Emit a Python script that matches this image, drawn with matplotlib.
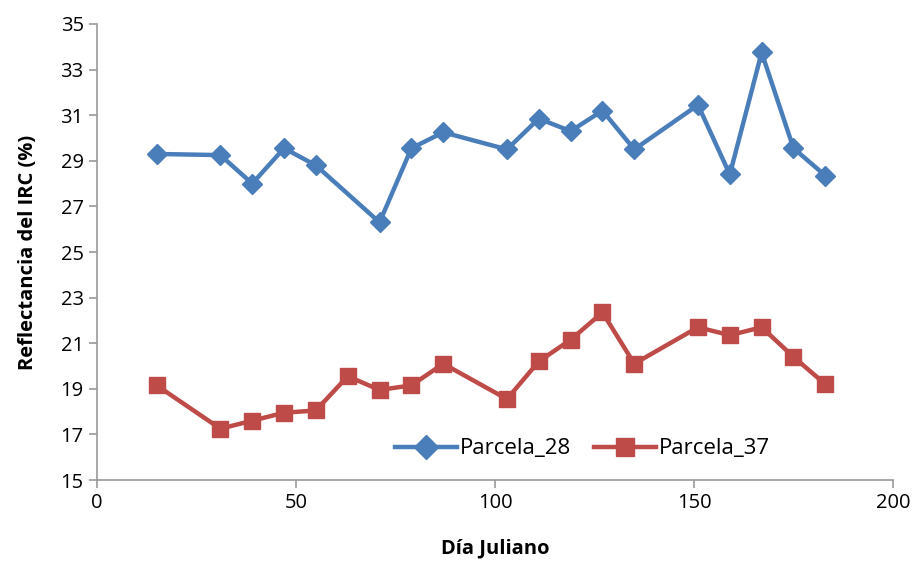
import matplotlib.pyplot as plt

plt.rcParams['font.family'] = ['Open Sans', 'DejaVu Sans']

# Day of year for each plot
dias_28 = [15, 31, 39, 47, 55, 71, 79, 87, 103, 111, 119, 127, 135, 151, 159, 167, 175, 183]
dias_37 = [15, 31, 39, 47, 55, 63, 71, 79, 87, 103, 111, 119, 127, 135, 151, 159, 167, 175, 183]

# NIR reflectance (%)
parcela_28 = [29.3, 29.25, 28.0, 29.55, 28.8, 26.3, 29.55, 30.25, 29.5, 30.85, 30.3,
              31.2, 29.5, 31.45, 28.4, 33.75, 29.55, 28.35]
parcela_37 = [19.15, 17.25, 17.6, 17.95, 18.05, 19.55, 18.95, 19.15, 20.1, 18.55, 20.2,
              21.15, 22.35, 20.1, 21.7, 21.35, 21.7, 20.4, 19.2]

fig = plt.figure(figsize=(9.21, 5.62), dpi=100)
ax = fig.add_axes([0.1053, 0.1459, 0.8643, 0.8114])

ax.plot(dias_28, parcela_28, color='#4a7ebb', linewidth=3.2, marker='D',
        markersize=10, label='Parcela_28')
ax.plot(dias_37, parcela_37, color='#be4b48', linewidth=3.2, marker='s',
        markersize=11, label='Parcela_37')

ax.set_xlim(0, 200)
ax.set_ylim(15, 35)
ax.set_xticks([0, 50, 100, 150, 200])
ax.set_yticks(range(15, 36, 2))
ax.tick_params(labelsize=14.5, color='#999999', length=6, width=1.2, direction='out')

for side in ['top', 'right']:
    ax.spines[side].set_visible(False)
for side in ['left', 'bottom']:
    ax.spines[side].set_color('#999999')
    ax.spines[side].set_linewidth(1.2)

ax.set_xlabel('Día Juliano', fontsize=14.5, fontweight='bold', labelpad=18)
ax.set_ylabel('Reflectancia del IRC (%)', fontsize=14.5, fontweight='bold', labelpad=16)

ax.legend(loc='center', bbox_to_anchor=(0.61, 0.068), ncol=2, frameon=False,
          fontsize=16, handlelength=2.8, columnspacing=1.0, handletextpad=0.15,
          markerscale=1.2)

fig.savefig('out.png', dpi=100)
